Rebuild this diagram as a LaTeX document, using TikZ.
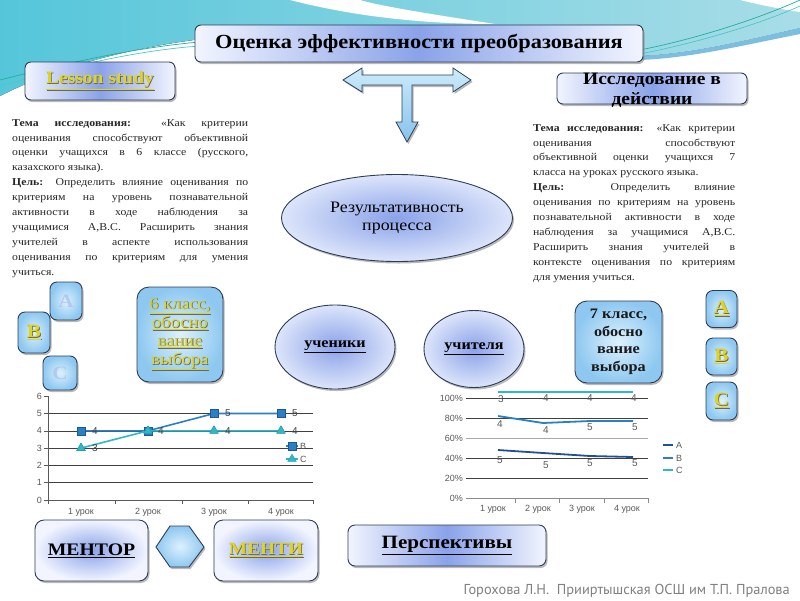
\documentclass[tikz,border=0pt]{standalone}
\usepackage{fontspec}
\setmainfont[FakeStretch=1.12]{Liberation Serif}
\newfontfamily\chartfont{Liberation Sans}
\newfontfamily\footfont{PT Sans}
\usetikzlibrary{shadows,shapes.geometric,calc}
\definecolor{boxblue}{HTML}{8AA2E8}
\definecolor{boxlight}{HTML}{F2F5FF}
\definecolor{ovalout}{HTML}{DDE5FB}
\definecolor{edgec}{HTML}{2E3D57}
\definecolor{skyc}{HTML}{8EC8F0}
\definecolor{skylight}{HTML}{DDF1FD}
\definecolor{yel}{HTML}{E0D41C}
\definecolor{bgl}{HTML}{55C6DA}
\definecolor{bgr}{HTML}{A8DDE7}
\definecolor{bgdeep}{HTML}{5AAED8}
\definecolor{wavea}{HTML}{1FAF9C}
\definecolor{waveb}{HTML}{4EC6C8}
\definecolor{serB}{HTML}{2A80C6}
\definecolor{serC}{HTML}{2FB8C8}
\definecolor{serA}{HTML}{23508E}
\definecolor{axisg}{HTML}{595959}
\definecolor{gridd}{HTML}{404040}
\definecolor{footg}{HTML}{808080}
\definecolor{ghost}{HTML}{B4C8F2}
\definecolor{arrl}{HTML}{CDEBFA}
\definecolor{arrd}{HTML}{86C2EC}

\newcommand{\ytxt}[1]{\makebox[0pt][l]{\hspace{0.8pt}\raisebox{-0.8pt}{\textcolor{black!60}{\underline{#1}}}}\textcolor{yel}{\underline{#1}}}

\tikzset{
  shd/.style={drop shadow={opacity=0.55, shadow xshift=1.5pt, shadow yshift=-2pt}},
  bigbox/.style={draw=edgec, line width=0.9pt, rounded corners=6pt, left color=boxlight, right color=boxlight, middle color=boxblue, shd, inner sep=0pt, text=black},
  softbox/.style={draw=edgec, line width=0.9pt, rounded corners=9pt, inner color=boxblue, outer color=boxlight, shd, inner sep=0pt, text=black},
  oval/.style={ellipse, draw=edgec, line width=0.9pt, inner color=boxblue, outer color=ovalout, shd, inner sep=0pt, text=black},
  skybox/.style={draw=edgec, line width=0.9pt, rounded corners=7pt, inner color=skylight, outer color=skyc, shd, inner sep=0pt},
  gridl/.style={draw=gridd, line width=0.6pt},
  lab/.style={font=\chartfont\fontsize{9}{10}\selectfont, text=axisg, inner sep=0pt},
  sqmark/.style={rectangle, minimum size=8pt, inner sep=0pt, fill=serB, draw=serB!70!black, line width=0.4pt},
  trimark/.style={regular polygon, regular polygon sides=3, minimum size=10pt, inner sep=0pt, fill=serC, draw=serC!80!black, line width=0.3pt},
  txtblock/.style={anchor=north west, inner sep=0pt, align=left, font=\fontsize{10.5}{14.95}\selectfont, text=black!85},
}

\begin{document}
\begin{tikzpicture}[x=1pt,y=-1pt]
\useasboundingbox (0,0) rectangle (800,600);
\fill[white] (0,0) rectangle (800,600);

% background wave
\fill[left color=bgl, right color=bgr] (0,0) -- (800,0) -- (800,28)
  .. controls (740,42) and (690,54) .. (640,56) -- (330,32)
  .. controls (200,30) and (80,55) .. (0,96) -- cycle;
\fill[bgdeep!80] (640,56) .. controls (690,54) and (740,42) .. (800,28) -- (800,34)
  .. controls (740,46) and (690,58) .. (640,60) -- cycle;
\fill[white] (290,0) .. controls (360,18) and (430,24) .. (495,24) .. controls (430,14) and (380,6) .. (360,0) -- cycle;
\fill[white] (740,0) .. controls (765,6) and (785,10) .. (800,12) -- (800,0) -- cycle;
\draw[wavea, line width=0.7pt] (0,80) .. controls (70,62) and (140,47) .. (200,42);
\draw[waveb, line width=0.7pt] (0,86) .. controls (70,66) and (140,50) .. (200,46);
\draw[wavea, line width=0.7pt] (640,50) .. controls (700,38) and (760,18) .. (800,0);
\draw[waveb, line width=0.7pt] (640,54) .. controls (700,42) and (760,24) .. (800,6);

% title
\node[bigbox, minimum width=448pt, minimum height=37pt, font=\bfseries\fontsize{20}{22}\selectfont] (title) at (419,43.5) {Оценка эффективности преобразования};
\node[bigbox, minimum width=150pt, minimum height=38pt, font=\bfseries\fontsize{17.4}{18}\selectfont] (lesson) at (100,81) {\ytxt{Lesson study}};
\node[bigbox, minimum width=190pt, minimum height=31pt] (issl) at (652,88.5) {};
\node[inner sep=0pt, align=center, font=\bfseries\fontsize{17.4}{20}\selectfont, text=black] (issltxt) at (652,90) {Исследование в\\действии};

% T arrow
\path[draw=edgec, line width=0.8pt, top color=arrl, bottom color=arrd, shd]
  (343,80) -- (362,68) -- (362,75) -- (453,75) -- (453,68) -- (471,80) -- (453,92) -- (453,85)
  -- (412,85) -- (412,122) -- (418,122) -- (407,142) -- (396,122) -- (402,122) -- (402,85)
  -- (362,85) -- (362,92) -- cycle;

% text blocks
\node[txtblock] (lefttxt) at (12,119) {%
\makebox[236pt][s]{\textbf{Тема исследования:} «Как критерии}\\
\makebox[236pt][s]{оценивания способствуют объективной}\\
\makebox[236pt][s]{оценки учащихся в 6 классе (русского,}\\
казахского языка).\\
\makebox[236pt][s]{\textbf{Цель:} Определить влияние оценивания по}\\
\makebox[236pt][s]{критериям на уровень познавательной}\\
\makebox[236pt][s]{активности в ходе наблюдения за}\\
\makebox[236pt][s]{учащимися А,В.С. Расширить знания}\\
\makebox[236pt][s]{учителей в аспекте использования}\\
\makebox[236pt][s]{оценивания по критериям для умения}\\
учиться.};

\node[txtblock] (righttxt) at (533,124) {%
\makebox[202pt][s]{\textbf{Тема исследования:} «Как критерии}\\
\makebox[202pt][s]{оценивания способствуют}\\
\makebox[202pt][s]{объективной оценки учащихся 7}\\
класса на уроках русского языка.\\
\makebox[202pt][s]{\textbf{Цель:} Определить влияние}\\
\makebox[202pt][s]{оценивания по критериям на уровень}\\
\makebox[202pt][s]{познавательной активности в ходе}\\
\makebox[202pt][s]{наблюдения за учащимися А,В.С.}\\
\makebox[202pt][s]{Расширить знания учителей в}\\
\makebox[202pt][s]{контексте оценивания по критериям}\\
для умения учиться.};

% ellipses
\node[oval, minimum width=231pt, minimum height=87pt, align=center, font=\fontsize{16}{18}\selectfont] (res) at (397,218) {Результативность\\процесса};
\node[oval, minimum width=120pt, minimum height=84pt, font=\bfseries\fontsize{14.4}{15}\selectfont] (uch) at (335,347) {\underline{ученики}};
\node[oval, minimum width=100pt, minimum height=77pt, font=\bfseries\fontsize{14.4}{15}\selectfont] (uchit) at (474,349) {\underline{учителя}};

% class boxes
\node[skybox, rounded corners=12pt, minimum width=86pt, minimum height=95pt, align=center, font=\fontsize{16.5}{18.5}\selectfont] (six) at (180,334.5) {\ytxt{6 класс,}\\\ytxt{обосно}\\\ytxt{вание}\\\ytxt{выбора}};
\node[skybox, rounded corners=12pt, minimum width=87pt, minimum height=82pt, align=center, font=\bfseries\fontsize{14.5}{17.5}\selectfont, text=black!90] (seven) at (618.5,342) {7 класс,\\обосно\\вание\\выбора};

% left letters
\node[skybox, minimum width=32pt, minimum height=38pt, font=\bfseries\fontsize{19}{20}\selectfont, text=ghost] (la) at (66,301) {A};
\node[skybox, minimum width=32pt, minimum height=41pt, font=\bfseries\fontsize{19}{20}\selectfont] (lb) at (34,332.5) {\ytxt{B}};
\node[skybox, minimum width=34pt, minimum height=34pt, font=\bfseries\fontsize{19}{20}\selectfont, text=ghost] (lc) at (60,373) {C};
% right letters
\node[skybox, minimum width=31pt, minimum height=37pt, font=\bfseries\fontsize{19}{20}\selectfont] (ra) at (721.5,309) {\ytxt{A}};
\node[skybox, minimum width=31pt, minimum height=37pt, font=\bfseries\fontsize{19}{20}\selectfont] (rb) at (721.5,356.5) {\ytxt{B}};
\node[skybox, minimum width=31pt, minimum height=38pt, font=\bfseries\fontsize{19}{20}\selectfont] (rc) at (721.5,401) {\ytxt{C}};

% ---------------- left chart
\foreach \v in {1,...,5} \draw[gridl] (48,{500-17.3*\v}) -- (313,{500-17.3*\v});
\draw[axisg, line width=0.6pt] (48,396.2) -- (48,500) -- (313,500);
\foreach \v in {0,...,6} {
  \draw[axisg, line width=0.6pt] (44,{500-17.3*\v}) -- (48,{500-17.3*\v});
  \node[lab, anchor=east] (ly\v) at (42,{500-17.3*\v}) {\v};
}
\foreach \x in {48,115,182,248,313} \draw[axisg, line width=0.6pt] (\x,500) -- (\x,504);
\foreach \x/\t [count=\i] in {81/1,148/2,214/3,281/4} \node[lab] (lx\i) at (\x,512) {\t\ урок};

\node[sqmark] (b1) at (81,430.8) {};
\node[sqmark] (b2) at (148,430.8) {};
\node[sqmark] (b3) at (214,413.5) {};
\node[sqmark] (b4) at (281,413.5) {};
\draw[serB, line width=1.6pt] (b1.center) -- (b2.center) -- (b3.center) -- (b4.center);
\foreach \i in {1,...,4} \node[sqmark] at (b\i) {};
\node[trimark] (c1) at (81,448.1) {};
\node[trimark] (c2) at (148,430.8) {};
\node[trimark] (c3) at (214,430.8) {};
\node[trimark] (c4) at (281,430.8) {};
\draw[serC, line width=1.6pt] (c1.center) -- (c2.center) -- (c3.center) -- (c4.center);
\foreach \i in {1,...,4} \node[trimark] at (c\i) {};
\node[lab, text=black!75, font=\chartfont\fontsize{10}{10}\selectfont] (bl1) at (95,430.8) {4};
\node[lab, text=black!75, font=\chartfont\fontsize{10}{10}\selectfont] (bl2) at (161,430.8) {4};
\node[lab, text=black!75, font=\chartfont\fontsize{10}{10}\selectfont] (bl3) at (228,413.5) {5};
\node[lab, text=black!75, font=\chartfont\fontsize{10}{10}\selectfont] (bl4) at (295,413.5) {5};
\node[lab, text=black!75, font=\chartfont\fontsize{10}{10}\selectfont] (cl1) at (95,448.1) {3};
\node[lab, text=black!75, font=\chartfont\fontsize{10}{10}\selectfont] (cl3) at (228,430.8) {4};
\node[lab, text=black!75, font=\chartfont\fontsize{10}{10}\selectfont] (cl4) at (295,430.8) {4};
% legend
\coordinate (lgb) at (292,446);
\draw[serB, line width=1.6pt] ($(lgb)+(-6,0)$) -- ($(lgb)+(6,0)$);
\node[sqmark] (lgbm) at (lgb) {};
\node[lab, anchor=west] (lgbt) at (300,446) {B};
\coordinate (lgc) at (292,459);
\draw[serC, line width=1.6pt] ($(lgc)+(-6,0)$) -- ($(lgc)+(6,0)$);
\node[trimark] (lgcm) at (lgc) {};
\node[lab, anchor=west] (lgct) at (300,459) {C};

% ---------------- right chart
\foreach \p/\c in {20/gridd,40/gridd,60/gridd!45,80/gridd,100/gridd} \draw[draw=\c, line width=0.6pt] (466,{498-\p}) -- (648,{498-\p});
\draw[axisg!70, line width=0.6pt] (466,498) -- (648,498);
\foreach \x in {515,559,604,648} \draw[axisg!70, line width=0.6pt] (\x,498) -- (\x,503);
\foreach \p [count=\i] in {0,20,40,60,80,100} \node[lab, anchor=east] (ry\i) at (463,{498-\p}) {\p\%};
\foreach \x/\t [count=\i] in {493/1,538/2,582/3,627/4} \node[lab] (rx\i) at (\x,509) {\t\ урок};

\coordinate (a1) at (498,450); \coordinate (a2) at (543,453); \coordinate (a3) at (590,456); \coordinate (a4) at (633,457);
\draw[serA, line width=1.8pt] (a1) -- (a2) -- (a3) -- (a4);
\coordinate (q1) at (498,416); \coordinate (q2) at (543,423); \coordinate (q3) at (590,421); \coordinate (q4) at (633,421);
\draw[serB, line width=1.8pt] (q1) -- (q2) -- (q3) -- (q4);
\coordinate (t1) at (498,392); \coordinate (t4) at (633,392);
\draw[serC, line width=2pt] (t1) -- (t4);
\foreach \x/\y/\t [count=\i] in {500/460/5,546/465/5,590/463/5,635/463/5,500/424/4,546/430/4,590/427/5,635/427/5,501/399/3,546/398/4,590/398/4,634/398/4}
  \node[lab, font=\chartfont\fontsize{10}{10}\selectfont] (dl\i) at (\x,\y) {\t};
\foreach \y/\c/\t in {445/serA/A,458/serB/B,470/serC/C} {
  \draw[\c, line width=1.8pt] (663,\y) -- (673,\y);
  \node[lab, anchor=west] (leg\t) at (676,\y) {\t};
}

% ---------------- bottom
\node[softbox, minimum width=113pt, minimum height=61pt, font=\bfseries\fontsize{17.6}{18}\selectfont] (mentor) at (91.5,550.5) {\underline{МЕНТОР}};
\path[draw=edgec, line width=0.9pt, inner color=skylight, outer color=skyc, shd] (156,547) -- (170,526) -- (189,526) -- (204,547) -- (189,567) -- (170,567) -- cycle;
\node[softbox, minimum width=104pt, minimum height=61pt, font=\bfseries\fontsize{17.3}{18}\selectfont] (menti) at (266,550.5) {\ytxt{МЕНТИ}};
\node[bigbox, minimum width=198pt, minimum height=41pt, rounded corners=7pt, font=\bfseries\fontsize{18.8}{19}\selectfont] (persp) at (447,545.5) {\underline{Перспективы}};

\node[anchor=east, inner sep=0pt, font=\footfont\fontsize{14.4}{16}\selectfont, text=footg] (foot) at (790,591) {Горохова Л.Н.\ \ Прииртышская ОСШ им Т.П. Пралова};
\end{tikzpicture}
\end{document}
